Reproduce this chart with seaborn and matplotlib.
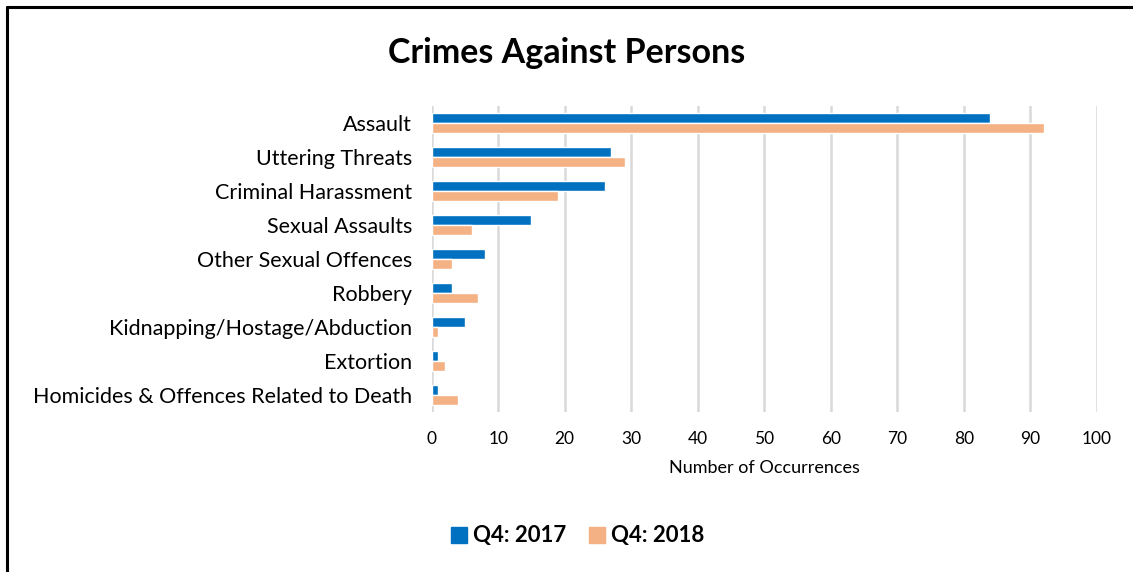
import pandas as pd
import matplotlib
matplotlib.use("Agg")
import matplotlib.pyplot as plt
import seaborn as sns
from matplotlib.lines import Line2D

categories = [
    "Assault",
    "Uttering Threats",
    "Criminal Harassment",
    "Sexual Assaults",
    "Other Sexual Offences",
    "Robbery",
    "Kidnapping/Hostage/Abduction",
    "Extortion",
    "Homicides & Offences Related to Death",
]
q4_2017 = [84, 27, 26, 15, 8, 3, 5, 1, 1]
q4_2018 = [92, 29, 19, 6, 3, 7, 1, 2, 4]
series = ["Q4: 2017", "Q4: 2018"]
colors = ["#0070C0", "#F4B183"]

df = pd.DataFrame({
    "category": categories * 2,
    "value": q4_2017 + q4_2018,
    "series": [series[0]] * len(categories) + [series[1]] * len(categories),
})

sns.set_style("white")
plt.rcParams["font.family"] = ["Lato", "DejaVu Sans"]
plt.rcParams["text.color"] = "black"
plt.rcParams["axes.labelcolor"] = "black"

fig = plt.figure(figsize=(11.33, 5.72), dpi=100)
ax = fig.add_axes([0.381, 0.280, 0.587, 0.535])

sns.barplot(data=df, y="category", x="value", hue="series", palette=colors,
            order=categories, hue_order=series, width=0.58, orient="h",
            ax=ax, legend=False, saturation=1)

ax.set_xlim(0, 100)
ax.set_ylim(len(categories) - 0.5, -0.5)
ax.set_xticks(range(0, 101, 10))
ax.grid(axis="x", color="#D9D9D9", linewidth=1.8)
ax.set_axisbelow(True)
for s in ax.spines.values():
    s.set_visible(False)
ax.tick_params(axis="y", length=0, labelsize=15.5, pad=14, colors="black")
ax.tick_params(axis="x", length=0, labelsize=12.5, pad=14, colors="black")
ax.set_ylabel("")
ax.set_xlabel("Number of Occurrences", fontsize=13, labelpad=9)

fig.suptitle("Crimes Against Persons", x=0.5, y=0.935, fontsize=24.5,
             fontweight="bold", color="black")

handles = [Line2D([0], [0], marker="s", linestyle="none", markersize=11,
                  markerfacecolor=c, markeredgecolor=c) for c in colors]
fig.legend(handles, series, loc="center", bbox_to_anchor=(0.509, 0.063),
           ncol=2, frameon=False, prop={"weight": "bold", "size": 16},
           handletextpad=0.2, columnspacing=0.9, handlelength=0.9,
           labelcolor="black")

# partial border of the original frame
fig.add_artist(Line2D([0.0062, 0.0062], [0, 0.988], color="black", lw=2.2,
                      transform=fig.transFigure))
fig.add_artist(Line2D([0.0062, 1.0], [0.988, 0.988], color="black", lw=2.2,
                      transform=fig.transFigure))

fig.savefig("out.png", dpi=100)
